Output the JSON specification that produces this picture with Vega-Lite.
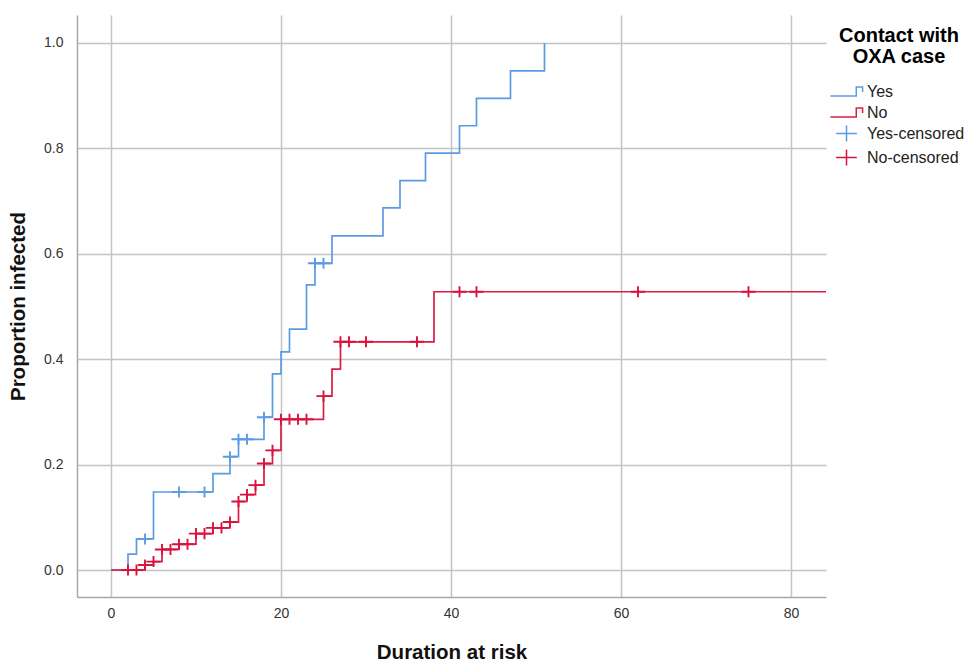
{
  "$schema": "https://vega.github.io/schema/vega-lite/v6.json",
  "width": 749,
  "height": 582,
  "autosize": "none",
  "padding": {"left": 77, "top": 15, "right": 146, "bottom": 66},
  "background": "white",
  "config": {
    "view": {"stroke": null},
    "font": "Liberation Sans",
    "axis": {
      "grid": true,
      "gridColor": "#c4c4c4",
      "gridWidth": 1.5,
      "domainColor": "#a8a8a8",
      "domainWidth": 1.5,
      "ticks": false,
      "labelFont": "Liberation Sans",
      "labelFontSize": 14,
      "labelColor": "#333333",
      "titleFont": "Liberation Sans",
      "titleFontSize": 20.5,
      "titleFontWeight": "bold",
      "titleColor": "#111111"
    },
    "legend": {
      "orient": "none",
      "legendX": 757,
      "legendY": 11,
      "titleFontSize": 20,
      "titleFontWeight": "bold",
      "titleColor": "#000000",
      "titleAnchor": "middle",
      "titleAlign": "center",
      "titleLineHeight": 21,
      "titlePadding": 12,
      "labelFontSize": 16,
      "labelColor": "#222222",
      "labelOffset": 8,
      "symbolSize": 529,
      "symbolStrokeWidth": 1.5,
      "rowPadding": 0
    }
  },
  "datasets": {
    "steps": [
      {"group": "Yes", "t": 0, "p": 0},
      {"group": "Yes", "t": 2, "p": 0.03},
      {"group": "Yes", "t": 3, "p": 0.059},
      {"group": "Yes", "t": 5, "p": 0.148},
      {"group": "Yes", "t": 12, "p": 0.183},
      {"group": "Yes", "t": 14, "p": 0.215},
      {"group": "Yes", "t": 15, "p": 0.248},
      {"group": "Yes", "t": 18, "p": 0.29},
      {"group": "Yes", "t": 19, "p": 0.372},
      {"group": "Yes", "t": 20, "p": 0.414},
      {"group": "Yes", "t": 21, "p": 0.457},
      {"group": "Yes", "t": 23, "p": 0.541},
      {"group": "Yes", "t": 24, "p": 0.582},
      {"group": "Yes", "t": 26, "p": 0.634},
      {"group": "Yes", "t": 32, "p": 0.687},
      {"group": "Yes", "t": 34, "p": 0.739},
      {"group": "Yes", "t": 37, "p": 0.791},
      {"group": "Yes", "t": 41, "p": 0.843},
      {"group": "Yes", "t": 43, "p": 0.895},
      {"group": "Yes", "t": 47, "p": 0.947},
      {"group": "Yes", "t": 51, "p": 1.0},
      {"group": "No", "t": 0, "p": 0},
      {"group": "No", "t": 4, "p": 0.0095},
      {"group": "No", "t": 5, "p": 0.016},
      {"group": "No", "t": 6, "p": 0.039},
      {"group": "No", "t": 8, "p": 0.049},
      {"group": "No", "t": 10, "p": 0.069},
      {"group": "No", "t": 12, "p": 0.08},
      {"group": "No", "t": 14, "p": 0.091},
      {"group": "No", "t": 15, "p": 0.13},
      {"group": "No", "t": 16, "p": 0.143},
      {"group": "No", "t": 17, "p": 0.161},
      {"group": "No", "t": 18, "p": 0.202},
      {"group": "No", "t": 19, "p": 0.227},
      {"group": "No", "t": 20, "p": 0.286},
      {"group": "No", "t": 25, "p": 0.33},
      {"group": "No", "t": 26, "p": 0.381},
      {"group": "No", "t": 27, "p": 0.433},
      {"group": "No", "t": 38, "p": 0.528},
      {"group": "No", "t": 84.12, "p": 0.528}
    ],
    "censors": [
      {"group": "Yes-censored", "t": 4, "p": 0.059},
      {"group": "Yes-censored", "t": 8, "p": 0.148},
      {"group": "Yes-censored", "t": 11, "p": 0.148},
      {"group": "Yes-censored", "t": 14, "p": 0.215},
      {"group": "Yes-censored", "t": 15, "p": 0.248},
      {"group": "Yes-censored", "t": 16, "p": 0.248},
      {"group": "Yes-censored", "t": 18, "p": 0.29},
      {"group": "Yes-censored", "t": 24, "p": 0.582},
      {"group": "Yes-censored", "t": 25, "p": 0.582},
      {"group": "No-censored", "t": 2, "p": 0},
      {"group": "No-censored", "t": 3, "p": 0},
      {"group": "No-censored", "t": 4, "p": 0.0095},
      {"group": "No-censored", "t": 5, "p": 0.016},
      {"group": "No-censored", "t": 6, "p": 0.039},
      {"group": "No-censored", "t": 7, "p": 0.039},
      {"group": "No-censored", "t": 8, "p": 0.049},
      {"group": "No-censored", "t": 9, "p": 0.049},
      {"group": "No-censored", "t": 10, "p": 0.069},
      {"group": "No-censored", "t": 11, "p": 0.069},
      {"group": "No-censored", "t": 12, "p": 0.08},
      {"group": "No-censored", "t": 13, "p": 0.08},
      {"group": "No-censored", "t": 14, "p": 0.091},
      {"group": "No-censored", "t": 15, "p": 0.13},
      {"group": "No-censored", "t": 16, "p": 0.143},
      {"group": "No-censored", "t": 17, "p": 0.161},
      {"group": "No-censored", "t": 18, "p": 0.202},
      {"group": "No-censored", "t": 19, "p": 0.227},
      {"group": "No-censored", "t": 20, "p": 0.286},
      {"group": "No-censored", "t": 21, "p": 0.286},
      {"group": "No-censored", "t": 22, "p": 0.286},
      {"group": "No-censored", "t": 23, "p": 0.286},
      {"group": "No-censored", "t": 25, "p": 0.33},
      {"group": "No-censored", "t": 27, "p": 0.433},
      {"group": "No-censored", "t": 28, "p": 0.433},
      {"group": "No-censored", "t": 30, "p": 0.433},
      {"group": "No-censored", "t": 36, "p": 0.433},
      {"group": "No-censored", "t": 41, "p": 0.528},
      {"group": "No-censored", "t": 43, "p": 0.528},
      {"group": "No-censored", "t": 62, "p": 0.528},
      {"group": "No-censored", "t": 75, "p": 0.528}
    ]
  },
  "layer": [
    {
      "data": {"name": "steps"},
      "mark": {"type": "line", "interpolate": "step-after", "strokeWidth": 1.7, "clip": true},
      "encoding": {
        "x": {
          "field": "t", "type": "quantitative",
          "scale": {"domain": [-4, 84.12], "nice": false, "zero": false},
          "axis": {"values": [0, 20, 40, 60, 80], "title": "Duration at risk", "labelPadding": 9, "titleY": 55, "titleBaseline": "middle"}
        },
        "y": {
          "field": "p", "type": "quantitative",
          "scale": {"domain": [-0.0512, 1.0531], "nice": false, "zero": false},
          "axis": {"values": [0, 0.2, 0.4, 0.6, 0.8, 1.0], "format": ".1f", "title": "Proportion infected", "labelPadding": 14, "titleX": -59, "titleBaseline": "middle"}
        },
        "color": {
          "field": "group", "type": "nominal",
          "scale": {"domain": ["Yes", "No", "Yes-censored", "No-censored"], "range": ["#5b9be3", "#dc1c46", "#5b9be3", "#d8133d"]},
          "title": ["Contact with", "OXA case"]
        }
      }
    },
    {
      "data": {"name": "censors"},
      "mark": {"type": "point", "filled": false, "strokeWidth": 1.9, "size": 250, "opacity": 1, "clip": true},
      "encoding": {
        "x": {"field": "t", "type": "quantitative"},
        "y": {"field": "p", "type": "quantitative"},
        "color": {
          "field": "group", "type": "nominal",
          "scale": {"domain": ["Yes", "No", "Yes-censored", "No-censored"], "range": ["#5b9be3", "#dc1c46", "#5b9be3", "#d8133d"]},
          "title": ["Contact with", "OXA case"]
        },
        "shape": {
          "field": "group", "type": "nominal",
          "title": ["Contact with", "OXA case"],
          "scale": {
            "domain": ["Yes", "No", "Yes-censored", "No-censored"],
            "range": ["M-1.4,0.4L0.85,0.4L0.85,-0.4L1.4,-0.4L1.4,0.05", "M-1.4,0.4L0.85,0.4L0.85,-0.4L1.4,-0.4L1.4,0.05", "M-0.9,0L0.9,0M0,-0.7L0,0.7", "M-0.9,0L0.9,0M0,-0.7L0,0.7"]
          }
        }
      }
    }
  ]
}
